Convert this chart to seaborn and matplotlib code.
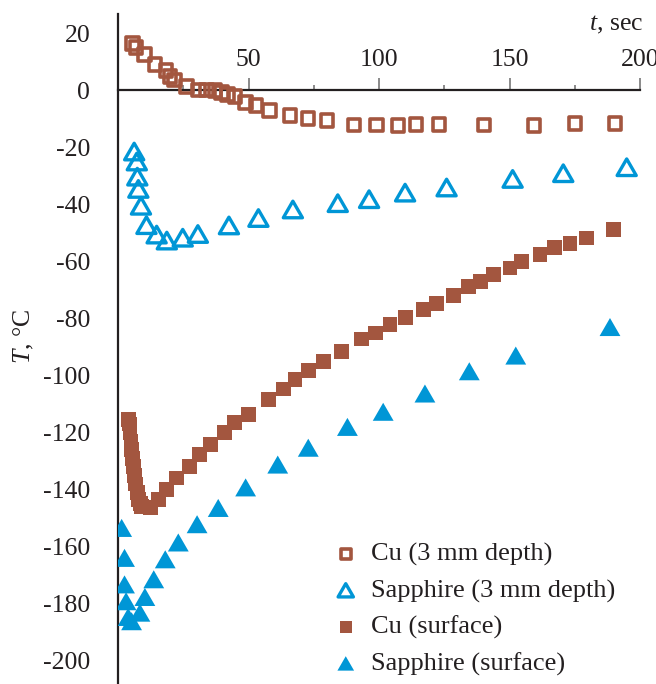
import matplotlib
matplotlib.use("Agg")
import matplotlib.pyplot as plt
from matplotlib.path import Path
import seaborn as sns
import numpy as np
from matplotlib.ticker import MultipleLocator, FixedLocator

# ---------------- data ----------------
cu_depth_t = [5.6, 6.9, 10.3, 14.2, 18.4, 19.9, 21.8, 26.3, 30.7, 34.0, 37.2, 39.7, 42.1,
              44.8, 49.0, 52.9, 57.9, 65.9, 72.8, 80.1, 90.4, 99.1, 107.3, 114.2, 123.0,
              140.2, 159.4, 175.1, 190.4]
cu_depth_T = [16.5, 14.9, 12.4, 9.1, 6.8, 4.8, 3.6, 1.3, 0.1, 0.1, -0.2, -0.9, -1.6,
              -2.2, -4.3, -5.5, -7.2, -8.9, -9.8, -10.7, -12.2, -12.2, -12.5, -11.9, -11.9,
              -12.2, -12.5, -11.7, -11.6]

sap_depth_t = [6.2, 7.2, 7.4, 7.8, 8.8, 10.9, 14.8, 18.7, 24.8, 30.6, 42.5, 53.8, 67.0,
               84.2, 96.2, 110.0, 125.9, 151.2, 170.6, 194.9]
sap_depth_T = [-21.5, -25.0, -30.3, -34.6, -40.5, -47.3, -50.6, -52.7, -51.7, -50.4, -47.4,
               -44.8, -41.8, -39.6, -38.2, -35.9, -34.1, -31.1, -29.1, -27.0]

cu_surf_t = [4.0, 4.3, 4.6, 5.0, 5.3, 5.6, 6.0, 6.4, 6.8, 7.3, 7.8, 8.5, 9.1, 12.3, 15.4,
             18.7, 22.5, 27.3, 31.1, 35.5, 40.7, 44.8, 49.9, 57.6, 63.3, 67.8, 72.9, 78.7,
             85.7, 93.4, 98.5, 104.2, 110.3, 117.0, 122.2, 128.4, 134.2, 139.0, 143.8,
             150.2, 154.7, 161.7, 167.4, 173.2, 179.6, 190.0]
cu_surf_T = [-115.4, -117.0, -120.0, -123.0, -126.0, -129.0, -132.0, -135.0, -138.0, -141.0,
             -143.5, -145.0, -145.8, -146.4, -143.5, -140.0, -135.9, -131.8, -127.7, -124.2,
             -120.1, -116.6, -113.7, -108.4, -104.7, -101.4, -98.2, -95.0, -91.5, -87.2,
             -85.1, -82.2, -79.8, -76.9, -74.8, -72.0, -68.8, -67.0, -64.7, -62.3, -60.0,
             -57.7, -55.2, -53.8, -51.8, -48.7]

sap_surf_t = [1.4, 2.5, 2.5, 3.1, 3.9, 5.2, 8.4, 10.3, 13.7, 18.1, 23.1, 30.3, 38.4, 48.9,
              61.2, 72.9, 87.9, 101.6, 117.6, 134.6, 152.4, 188.5]
sap_surf_T = [-153.4, -163.9, -173.2, -179.1, -184.6, -186.1, -183.1, -177.6, -171.4, -164.4,
              -158.5, -152.1, -146.4, -139.2, -131.2, -125.3, -118.0, -112.7, -106.3, -98.5,
              -93.0, -83.0]

labels = ["Cu (3 mm depth)", "Sapphire (3 mm depth)", "Cu (surface)", "Sapphire (surface)"]
x_major = [50, 100, 150, 200]
x_minor = [25, 75, 125, 175]

# ---------------- style ----------------
sns.set_style("white")
plt.rcParams["font.family"] = ["Liberation Serif", "DejaVu Serif"]
plt.rcParams["axes.unicode_minus"] = False
plt.rcParams["mathtext.fontset"] = "custom"
plt.rcParams["mathtext.it"] = "Liberation Serif:italic"
plt.rcParams["mathtext.rm"] = "Liberation Serif"

BROWN = "#A3563F"
BLUE = "#0096D6"
TXT = "#231F20"

fig = plt.figure(figsize=(6.56, 6.84), dpi=100)
ax = fig.add_axes([118 / 656, 0, 522 / 656, 670 / 684])

tri = Path([(-1, -0.866), (1, -0.866), (0, 0.866), (-1, -0.866)],
           [Path.MOVETO, Path.LINETO, Path.LINETO, Path.CLOSEPOLY])

sns.scatterplot(x=cu_depth_t, y=cu_depth_T, ax=ax, marker="s", s=85,
                facecolors="none", edgecolor=BROWN, linewidth=2.6, label=labels[0], zorder=3)
sns.scatterplot(x=sap_depth_t, y=sap_depth_T, ax=ax, marker=tri, s=190,
                facecolors="none", edgecolor=BLUE, linewidth=2.4, label=labels[1], zorder=3)
sns.scatterplot(x=cu_surf_t, y=cu_surf_T, ax=ax, marker="s", s=115,
                color=BROWN, edgecolor="none", linewidth=0, label=labels[2], zorder=3)
sns.scatterplot(x=sap_surf_t, y=sap_surf_T, ax=ax, marker=tri, s=225,
                color=BLUE, edgecolor="none", linewidth=0, label=labels[3], zorder=3)

ax.set_xlim(0, 200)
ax.set_ylim(-208.1, 26.7)

# spines
for s in ["right", "bottom"]:
    ax.spines[s].set_visible(False)
ax.spines["top"].set_position(("data", 0))
ax.spines["top"].set_linewidth(1.6)
ax.spines["top"].set_color(TXT)
ax.spines["left"].set_linewidth(1.6)
ax.spines["left"].set_color(TXT)

ax.xaxis.set_ticks_position("top")
ax.xaxis.set_major_locator(FixedLocator(x_major))
ax.xaxis.set_minor_locator(FixedLocator(x_minor))
ax.yaxis.set_major_locator(MultipleLocator(20))
ax.yaxis.set_minor_locator(MultipleLocator(10))

ax.tick_params(axis="x", which="major", direction="out", length=8.6, width=1.2,
               color="#777777", pad=5, labelsize=18.5, labelcolor=TXT)
ax.tick_params(axis="x", which="minor", direction="out", length=3.6, width=1.2, color="#777777")
ax.tick_params(axis="y", which="major", direction="out", length=10, width=1.2,
               color="#777777", pad=10, labelsize=18.5, labelcolor=TXT)
ax.tick_params(axis="y", which="minor", direction="out", length=4.3, width=1.2, color="#777777")
ax.set_xlabel("")
ax.set_ylabel("")

fig.text(24 / 656, 1 - 336 / 684, "$T$, °C", rotation=90, ha="center", va="center",
         fontsize=18.5, color=TXT)
fig.text(643 / 656, 1 - 30 / 684, "$t$, sec", ha="right", va="baseline",
         fontsize=18.5, color=TXT)

leg = ax.legend(loc="upper left", bbox_to_anchor=(322 / 656, 1 - 529 / 684),
                bbox_transform=fig.transFigure, frameon=False, fontsize=19,
                handlelength=0.8, handletextpad=0.55, labelspacing=0.48, borderpad=0,
                markerscale=0.8)
for t in leg.get_texts():
    t.set_color(TXT)

fig.savefig("out.png", dpi=100)
